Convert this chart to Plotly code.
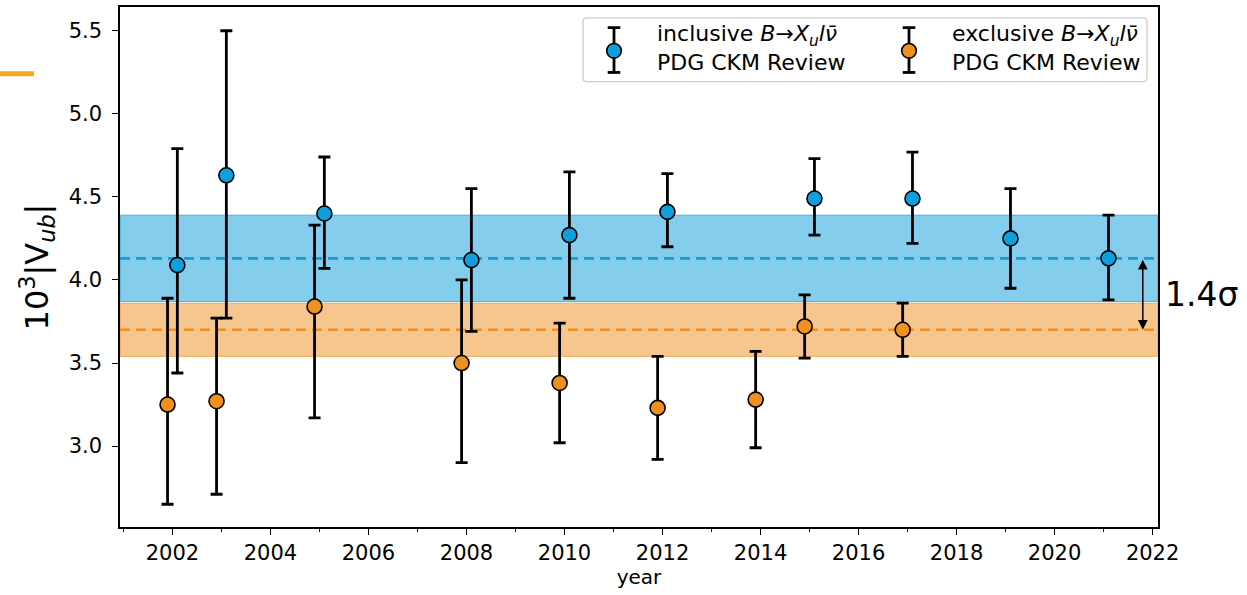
import plotly.graph_objects as go

# ---- data ----
incl_year = [2002.1, 2003.1, 2005.1, 2008.1, 2010.1, 2012.1, 2015.1, 2017.1, 2019.1, 2021.1]
incl_val = [4.09, 4.63, 4.40, 4.12, 4.27, 4.41, 4.49, 4.49, 4.25, 4.13]
incl_up = [4.79, 5.50, 4.74, 4.55, 4.65, 4.64, 4.73, 4.77, 4.55, 4.39]
incl_lo = [3.44, 3.77, 4.07, 3.69, 3.89, 4.20, 4.27, 4.22, 3.95, 3.88]

excl_year = [2001.9, 2002.9, 2004.9, 2007.9, 2009.9, 2011.9, 2013.9, 2014.9, 2016.9]
excl_val = [3.25, 3.27, 3.84, 3.50, 3.38, 3.23, 3.28, 3.72, 3.70]
excl_up = [3.89, 3.77, 4.33, 4.00, 3.74, 3.54, 3.57, 3.91, 3.86]
excl_lo = [2.65, 2.71, 3.17, 2.90, 3.02, 2.92, 2.99, 3.53, 3.54]

incl_avg, incl_err = 4.13, 0.26
excl_avg, excl_err = 3.70, 0.16
tension_label = "1.4σ"
arrow_year = 2021.8

x_ticks = list(range(2002, 2023, 2))
y_ticks = [3.0, 3.5, 4.0, 4.5, 5.0, 5.5]

incl_name = "inclusive <i>B</i>→<i>X<sub>u</sub>lν̄</i><br>PDG CKM Review"
excl_name = "exclusive <i>B</i>→<i>X<sub>u</sub>lν̄</i><br>PDG CKM Review"

BLUE = "#0f9fdc"
ORANGE = "#f0901e"
FONT = "DejaVu Sans"

# plot-area geometry in pixels (for converting legend layout to paper units)
W, H = 1247, 595
ML, MR, MT, MB = 120, 89, 5, 68
PW, PH = W - ML - MR, H - MT - MB

def px(x):
    return (x - ML) / PW

def py(y):
    return (H - MB - y) / PH

fig = go.Figure()

def add_series(xs, ys, ups, los, color, name):
    fig.add_trace(go.Scatter(
        x=xs, y=ys, mode="markers", name=name, showlegend=False,
        marker=dict(size=15, color=color, line=dict(color="black", width=1.6)),
        error_y=dict(type="data", symmetric=False,
                     array=[u - v for u, v in zip(ups, ys)],
                     arrayminus=[v - l for v, l in zip(ys, los)],
                     color="black", thickness=2.8, width=6),
    ))

add_series(incl_year, incl_val, incl_up, incl_lo, BLUE, incl_name)
add_series(excl_year, excl_val, excl_up, excl_lo, ORANGE, excl_name)

# bands
for avg, err, fill, edge, dash in [
    (incl_avg, incl_err, "rgba(20,160,220,0.52)", "rgba(20,160,220,0.7)", BLUE),
    (excl_avg, excl_err, "rgba(240,140,30,0.5)", "rgba(240,140,30,0.6)", ORANGE),
]:
    fig.add_shape(type="rect", xref="paper", yref="y", x0=0, x1=1,
                  y0=avg - err, y1=avg + err, fillcolor=fill,
                  line=dict(color=edge, width=1), layer="below")
    fig.add_shape(type="line", xref="paper", yref="y", x0=0, x1=1,
                  y0=avg, y1=avg, line=dict(color=dash, width=2.6, dash="10px,6px"),
                  layer="below")

# arrow between averages
fig.add_annotation(x=arrow_year, y=excl_avg, ax=arrow_year, ay=incl_avg,
                   xref="x", yref="y", axref="x", ayref="y", text="",
                   showarrow=True, arrowhead=2, startarrowhead=2,
                   arrowside="end+start", arrowwidth=1.5, arrowsize=1.3,
                   startarrowsize=1.3, arrowcolor="black")
fig.add_annotation(x=1.005, y=(incl_avg + excl_avg) / 2, xref="paper", yref="y",
                   xanchor="left", yanchor="middle", text=tension_label,
                   showarrow=False, font=dict(family=FONT, size=33, color="black"))

# decorative orange dash at top-left
fig.add_shape(type="line", xref="paper", yref="paper", x0=px(0), x1=px(34),
              y0=py(72), y1=py(72), line=dict(color="#f7a823", width=5))

# ---- legend box (matplotlib style, with error-bar glyphs) ----
bx0, bx1, by0, by1 = px(583), px(1147), py(80), py(16)
rx, ry = 4 / PW, 4 / PH
path = (f"M {bx0+rx},{by0} L {bx1-rx},{by0} Q {bx1},{by0} {bx1},{by0+ry} "
        f"L {bx1},{by1-ry} Q {bx1},{by1} {bx1-rx},{by1} L {bx0+rx},{by1} "
        f"Q {bx0},{by1} {bx0},{by1-ry} L {bx0},{by0+ry} Q {bx0},{by0} {bx0+rx},{by0} Z")
fig.add_shape(type="path", xref="paper", yref="paper", path=path,
              fillcolor="rgba(255,255,255,0.85)", line=dict(color="#cccccc", width=1.3))

for gx, tx, color, name in [(614, 655, BLUE, incl_name), (909, 950, ORANGE, excl_name)]:
    cap_top, cap_bot, cy, r, hw = 25.7, 70.7, 49.0, 7.3, 6.3
    fig.add_shape(type="line", xref="paper", yref="paper", x0=px(gx), x1=px(gx),
                  y0=py(cap_top), y1=py(cap_bot), line=dict(color="black", width=2.8))
    for cyy in (cap_top, cap_bot):
        fig.add_shape(type="line", xref="paper", yref="paper", x0=px(gx - hw), x1=px(gx + hw),
                      y0=py(cyy), y1=py(cyy), line=dict(color="black", width=2.8))
    fig.add_shape(type="circle", xref="paper", yref="paper",
                  x0=px(gx - r), x1=px(gx + r), y0=py(cy + r), y1=py(cy - r),
                  fillcolor=color, line=dict(color="black", width=1.6))
    fig.add_annotation(x=px(tx), y=py(46.5), xref="paper", yref="paper",
                       xanchor="left", yanchor="middle", align="left", showarrow=False,
                       text=name, font=dict(family=FONT, size=22, color="black"))

axis_common = dict(showline=True, linecolor="black", linewidth=1.5, mirror=True,
                   ticks="outside", ticklen=6, tickwidth=1.3, tickcolor="black",
                   showgrid=False, zeroline=False,
                   tickfont=dict(family=FONT, size=21, color="black"))

fig.update_layout(
    width=W, height=H,
    margin=dict(l=ML, r=MR, t=MT, b=MB),
    paper_bgcolor="white", plot_bgcolor="white",
    font=dict(family=FONT, color="black"),
    xaxis=dict(range=[2000.93, 2022.11], tickvals=x_ticks,
               minor=dict(dtick=1, tick0=2000, ticks="outside", ticklen=3.5,
                          tickcolor="black", tickwidth=1),
               title=dict(text="year", font=dict(family=FONT, size=20), standoff=6),
               **axis_common),
    yaxis=dict(range=[2.513, 5.643], tickvals=y_ticks, tickformat=".1f",
               ticklabelstandoff=6,
               title=dict(text="10<sup>3</sup>|V<sub><i>ub</i></sub>|",
                          font=dict(family=FONT, size=32), standoff=10),
               **axis_common),
    showlegend=False,
)

fig.write_html("out.html", config={"displayModeBar": False},
               post_script="document.body.style.margin='0px';")
